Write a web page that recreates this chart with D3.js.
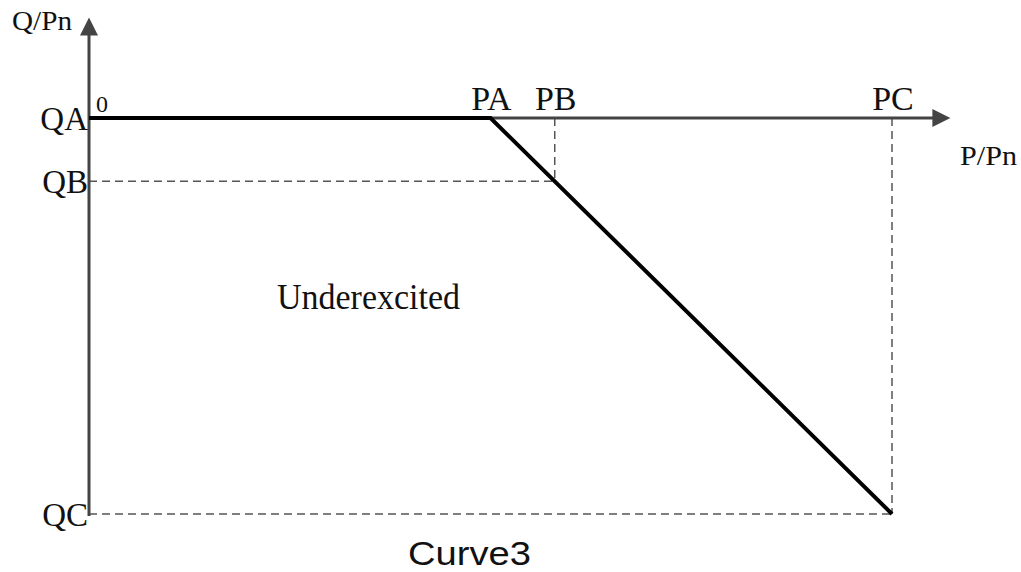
<!DOCTYPE html>
<html>
<head>
<meta charset="utf-8">
<script src="https://cdn.jsdelivr.net/npm/d3@7"></script>
<style>
  body { margin: 0; background: #fff; }
  text { font-family: "Liberation Serif", "DejaVu Serif", serif; fill: #111; }
</style>
</head>
<body>
<script>
// P breakpoints (per unit of PC) and Q setpoints
var pNames = ['PA', 'PB', 'PC'];
var pValues = [0.5, 0.58, 1.0];
var qNames = ['QA', 'QB', 'QC'];
var qValues = [0, -0.16, -1.0];

var curve = [
    [0,    0],
    [0.5,  0],
    [0.58, -0.16],
    [1.0,  -1.0]
];

var width = 1021, height = 572;

var x = d3.scaleLinear()
    .domain([0, 1])
    .range([89, 892]);

var y = d3.scaleLinear()
    .domain([-1, 0])
    .range([514, 118]);

var svg = d3.select('body')
    .append('svg')
    .attr('width', width)
    .attr('height', height);

svg.append('defs').append('marker')
    .attr('id', 'arrow')
    .attr('viewBox', '0 0 10 10')
    .attr('refX', 2)
    .attr('refY', 5)
    .attr('markerWidth', 7)
    .attr('markerHeight', 6)
    .attr('markerUnits', 'strokeWidth')
    .attr('orient', 'auto')
  .append('path')
    .attr('d', 'M0,0 L10,5 L0,10 Z')
    .attr('fill', '#444');

// dashed guides
var guides = svg.append('g')
    .attr('stroke', '#555')
    .attr('stroke-width', 1.5)
    .attr('stroke-dasharray', '8,5')
    .attr('fill', 'none');

guides.append('line')
    .attr('x1', x(0)).attr('x2', x(pValues[1]))
    .attr('y1', y(qValues[1])).attr('y2', y(qValues[1]));
guides.append('line')
    .attr('x1', x(pValues[1])).attr('x2', x(pValues[1]))
    .attr('y1', y(0)).attr('y2', y(qValues[1]));
guides.append('line')
    .attr('x1', x(0)).attr('x2', x(pValues[2]))
    .attr('y1', y(qValues[2])).attr('y2', y(qValues[2]));
guides.append('line')
    .attr('x1', x(pValues[2])).attr('x2', x(pValues[2]))
    .attr('y1', y(0)).attr('y2', y(qValues[2]));

// axes
svg.append('line')
    .attr('x1', x(0)).attr('y1', y(0))
    .attr('x2', 936).attr('y2', y(0))
    .attr('stroke', '#444')
    .attr('stroke-width', 3)
    .attr('marker-end', 'url(#arrow)');

svg.append('line')
    .attr('x1', x(0)).attr('y1', 516)
    .attr('x2', x(0)).attr('y2', 32)
    .attr('stroke', '#444')
    .attr('stroke-width', 3)
    .attr('marker-end', 'url(#arrow)');

// characteristic
var line = d3.line()
    .x(function (d) { return x(d[0]); })
    .y(function (d) { return y(d[1]); });

svg.append('path')
    .datum(curve)
    .attr('d', line)
    .attr('fill', 'none')
    .attr('stroke', '#000')
    .attr('stroke-width', 4);

// labels
svg.selectAll('.plab')
    .data(pValues)
    .enter().append('text')
    .attr('class', 'plab')
    .attr('x', function (d) { return x(d) + 1; })
    .attr('y', 110)
    .style('font-size', '34px')
    .style('text-anchor', 'middle')
    .text(function (d, i) { return pNames[i]; });

svg.selectAll('.qlab')
    .data(qValues)
    .enter().append('text')
    .attr('class', 'qlab')
    .attr('x', x(0) - 1)
    .attr('y', function (d) { return y(d) + 12; })
    .style('font-size', '33px')
    .style('text-anchor', 'end')
    .text(function (d, i) { return qNames[i]; });

svg.append('text')
    .attr('x', 96)
    .attr('y', 112)
    .style('font-size', '24px')
    .text('0');

svg.append('text')
    .attr('x', 12)
    .attr('y', 30)
    .attr('textLength', 60)
    .attr('lengthAdjust', 'spacingAndGlyphs')
    .style('font-size', '27px')
    .text('Q/Pn');

svg.append('text')
    .attr('x', 960)
    .attr('y', 165)
    .attr('textLength', 57)
    .attr('lengthAdjust', 'spacingAndGlyphs')
    .style('font-size', '27px')
    .text('P/Pn');

svg.append('text')
    .attr('x', 277)
    .attr('y', 309)
    .attr('textLength', 183)
    .attr('lengthAdjust', 'spacingAndGlyphs')
    .style('font-size', '35px')
    .text('Underexcited');

svg.append('text')
    .attr('x', 408)
    .attr('y', 565)
    .attr('textLength', 123)
    .attr('lengthAdjust', 'spacingAndGlyphs')
    .style('font-family', '"Liberation Sans", Arial, sans-serif')
    .style('font-size', '34px')
    .text('Curve3');
</script>
</body>
</html>
